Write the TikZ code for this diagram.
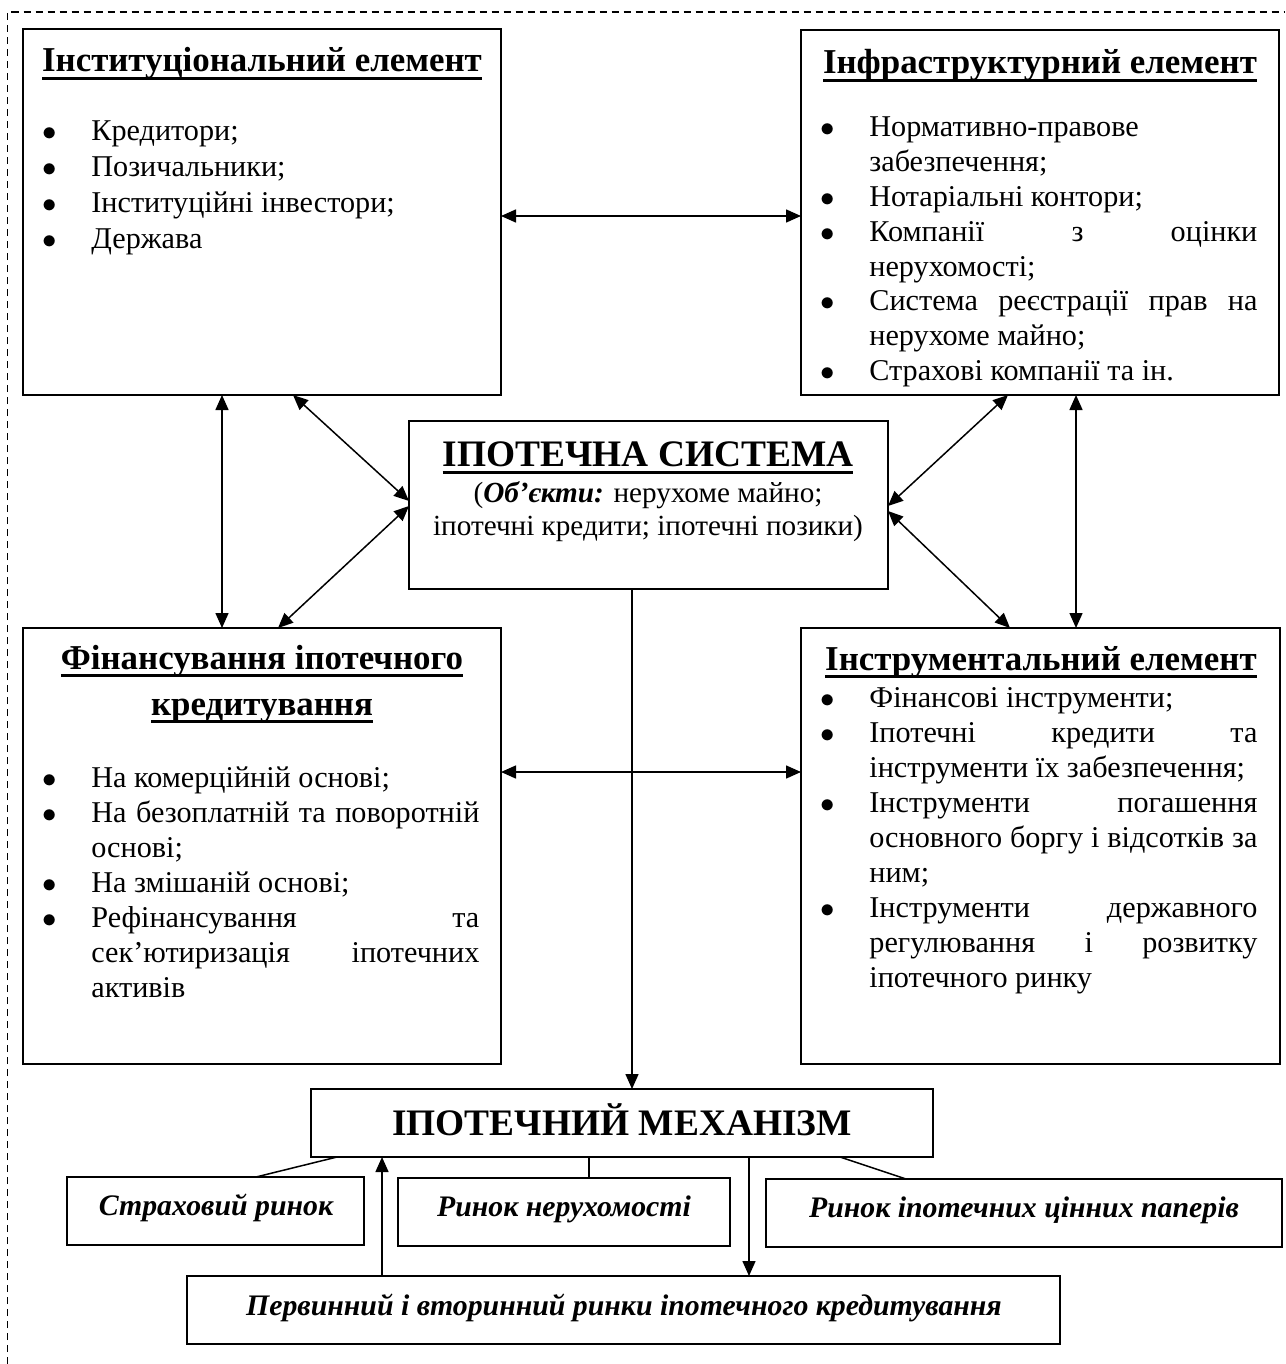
\documentclass[tikz,border=0pt]{standalone}
\usepackage{fontspec}
\setmainfont{Liberation Serif}
\usetikzlibrary{arrows.meta,fit}
\newcommand\undl[1]{\setbox0\hbox{#1}\rlap{\rule[-4.2pt]{\wd0}{1.8pt}}\box0}
\newcommand\lst[2]{\vtop{\baselineskip=#1\lineskiplimit=-40pt\lineskip=0pt #2}}
\newcommand\bul{\makebox[24.5pt][l]{$\bullet$}}
\newcommand\itemL[1]{\hbox{\bul#1}}
\newcommand\itemJ[1]{\hbox{\bul\makebox[194pt][s]{#1}}}
\newcommand\contL[1]{\hbox{\hspace*{24.5pt}#1}}
\newcommand\contJ[1]{\hbox{\hspace*{24.5pt}\makebox[194pt][s]{#1}}}
\begin{document}
\begin{tikzpicture}[x=0.5pt,y=-0.5pt,
  box/.style={draw, line width=1pt, inner sep=0pt, outer sep=0pt},
  conn/.style={line width=0.75pt},
  dbl/.style={conn, {Triangle[length=7.5pt,width=6.5pt]}-{Triangle[length=7.5pt,width=6.5pt]}},
  one/.style={conn, -{Triangle[length=7.5pt,width=6.5pt]}},
  ttl/.style={anchor=base, inner sep=0pt, font=\fontsize{17.45}{20}\selectfont\bfseries},
  big/.style={anchor=base, inner sep=0pt, font=\fontsize{18.7}{24}\selectfont\bfseries},
  body/.style={anchor=base west, inner sep=0pt, font=\fontsize{15.1}{17.5}\selectfont},
  mid/.style={anchor=base, inner sep=0pt, font=\fontsize{14.6}{17.5}\selectfont},
  mkt/.style={anchor=base, inner sep=0pt, font=\fontsize{14.9}{17.5}\selectfont\bfseries\itshape}]
\useasboundingbox (0,0) rectangle (1285,1364);
% outer dashed frame (top and left sides visible)
\draw[line width=0.6pt, dash pattern=on 3.5pt off 2.5pt] (7.5,1364) -- (7.5,12) -- (1285,12);

% boxes
\node[box, fit={(23,29) (501,395)}] (inst) {};
\node[box, fit={(801,30) (1279,395)}] (infra) {};
\node[box, fit={(409,421) (888,589)}] (sys) {};
\node[box, fit={(23,628) (501,1064)}] (fin) {};
\node[box, fit={(801,628) (1280,1064)}] (instr) {};
\node[box, fit={(311,1089) (933,1157)}] (mech) {};
\node[box, fit={(67,1177) (364,1245)}] (strakh) {};
\node[box, fit={(398,1178) (730,1246)}] (nerukh) {};
\node[box, fit={(766,1179) (1282,1247)}] (cinni) {};
\node[box, fit={(187,1276) (1060,1344)}] (perv) {};

% institutional element
\node[ttl] (instT) at (262,72) {\undl{Інституціональний елемент}};
\node[body] (instL) at (42,141) {\lst{17.85pt}{%
  \itemL{Кредитори;}
  \itemL{Позичальники;}
  \itemL{Інституційні інвестори;}
  \itemL{Держава}}};

% infrastructure element
\node[ttl] (infraT) at (1040,74) {\undl{Інфраструктурний елемент}};
\node[body] (infraL) at (820,137) {\lst{17.4pt}{%
  \itemL{Нормативно-правове}
  \contL{забезпечення;}
  \itemL{Нотаріальні контори;}
  \itemJ{Компанії з оцінки}
  \contL{нерухомості;}
  \itemJ{Система реєстрації прав на}
  \contL{нерухоме майно;}
  \itemL{Страхові компанії та ін.}}};

% mortgage system
\node[big] (sysT) at (648,466) {\undl{ІПОТЕЧНА СИСТЕМА}};
\node[mid] (sys1) at (648,502) {(\textbf{\textit{Об’єкти:}} нерухоме майно;};
\node[mid] (sys2) at (648,535) {іпотечні кредити; іпотечні позики)};

% financing
\node[ttl] (finT1) at (262,669) {\undl{Фінансування іпотечного}};
\node[ttl] (finT2) at (262,715) {\undl{кредитування}};
\node[body] (finL) at (42,787) {\lst{17.5pt}{%
  \itemL{На комерційній основі;}
  \itemJ{На безоплатній та поворотній}
  \contL{основі;}
  \itemL{На змішаній основі;}
  \itemJ{Рефінансування та}
  \contJ{сек’ютиризація іпотечних}
  \contL{активів}}};

% instrumental element
\node[ttl] (instrT) at (1041,670) {\undl{Інструментальний елемент}};
\node[body] (instrL) at (820,707) {\lst{17.5pt}{%
  \itemL{Фінансові інструменти;}
  \itemJ{Іпотечні кредити та}
  \contL{інструменти їх забезпечення;}
  \itemJ{Інструменти погашення}
  \contJ{основного боргу і відсотків за}
  \contL{ним;}
  \itemJ{Інструменти державного}
  \contJ{регулювання і розвитку}
  \contL{іпотечного ринку}}};

% mechanism and markets
\node[big] (mechT) at (622,1135) {ІПОТЕЧНИЙ МЕХАНІЗМ};
\node[mkt] (strakhT) at (216,1215) {Страховий ринок};
\node[mkt] (nerukhT) at (564,1216) {Ринок нерухомості};
\node[mkt] (cinniT) at (1024,1217) {Ринок іпотечних цінних паперів};
\node[mkt] (pervT) at (624,1315) {Первинний і вторинний ринки іпотечного кредитування};

% connectors
\draw[dbl] (inst.east |- 0,216) -- (infra.west |- 0,216);
\draw[dbl] (fin.east |- 0,772) -- (instr.west |- 0,772);
\draw[dbl] (inst.south -| 222,0) -- (fin.north -| 222,0);
\draw[dbl] (infra.south -| 1076,0) -- (instr.north -| 1076,0);
\draw[dbl] (inst.south -| 293,0) -- (sys.west |- 0,501);
\draw[dbl] (fin.north -| 278,0) -- (sys.west |- 0,506);
\draw[dbl] (infra.south -| 1008,0) -- (sys.east |- 0,506);
\draw[dbl] (instr.north -| 1010,0) -- (sys.east |- 0,511);
\draw[one] (sys.south -| 632,0) -- (mech.north -| 632,0);
\draw[conn] (mech.south -| 337,0) -- (strakh.north -| 256,0);
\draw[conn] (mech.south -| 589,0) -- (nerukh.north -| 589,0);
\draw[conn] (mech.south -| 840,0) -- (cinni.north -| 906,0);
\draw[one] (perv.north -| 382,0) -- (mech.south -| 382,0);
\draw[one] (mech.south -| 749,0) -- (perv.north -| 749,0);
\end{tikzpicture}
\end{document}
